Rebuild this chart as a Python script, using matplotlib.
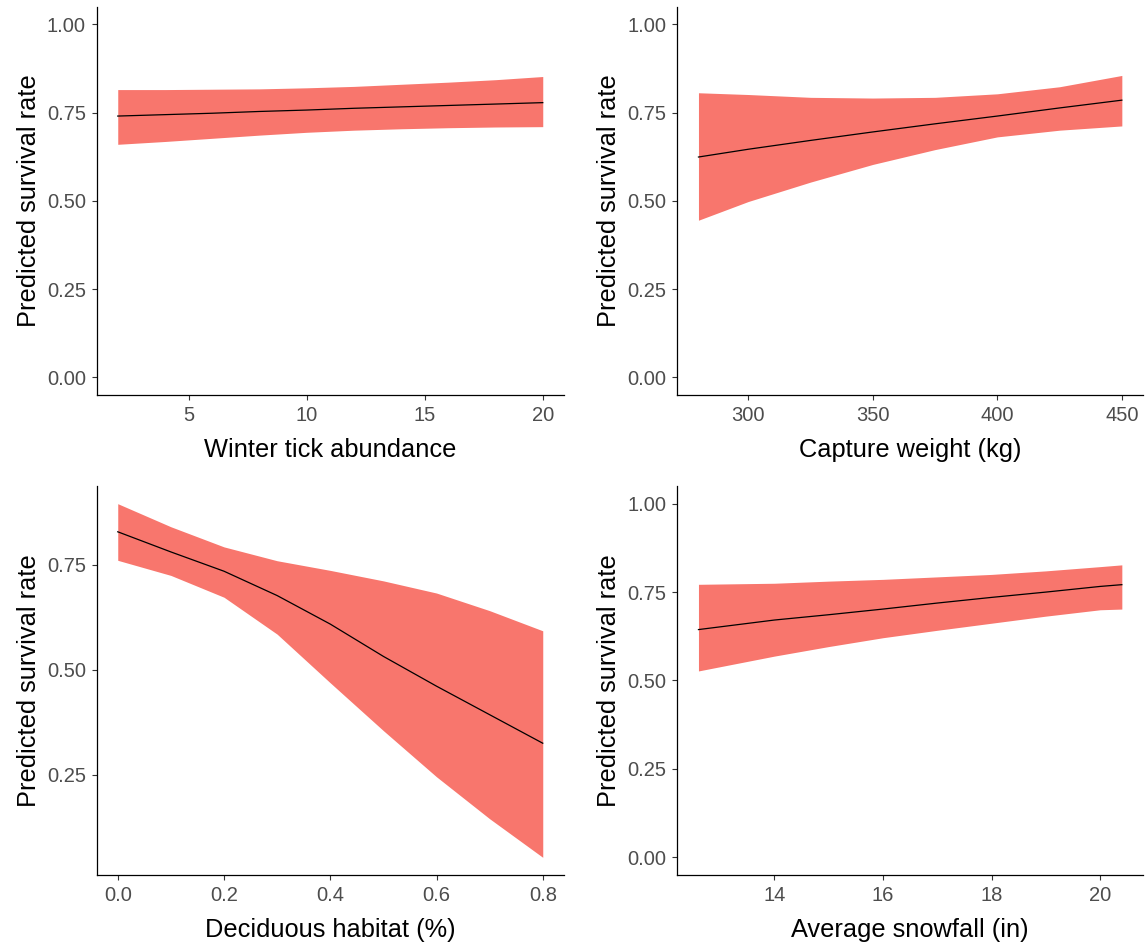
import numpy as np
import matplotlib
matplotlib.use("Agg")
import matplotlib.pyplot as plt

plt.rcParams["font.family"] = ["Liberation Sans", "DejaVu Sans"]

# Winter tick abundance
tick_x = [2, 4, 6, 8, 10, 12, 14, 16, 18, 20]
tick_mean = [0.740, 0.744, 0.748, 0.753, 0.757, 0.762, 0.766, 0.770, 0.774, 0.778]
tick_upper = [0.815, 0.815, 0.816, 0.817, 0.820, 0.824, 0.830, 0.836, 0.843, 0.852]
tick_lower = [0.660, 0.668, 0.677, 0.686, 0.694, 0.700, 0.704, 0.707, 0.709, 0.710]

# Capture weight (kg)
weight_x = [280, 300, 325, 350, 375, 400, 425, 450]
weight_mean = [0.624, 0.646, 0.671, 0.695, 0.718, 0.740, 0.763, 0.785]
weight_upper = [0.806, 0.801, 0.793, 0.791, 0.793, 0.803, 0.823, 0.855]
weight_lower = [0.445, 0.498, 0.553, 0.603, 0.645, 0.681, 0.700, 0.712]

# Deciduous habitat (%)
decid_x = [0.0, 0.1, 0.2, 0.3, 0.4, 0.5, 0.6, 0.7, 0.8]
decid_mean = [0.829, 0.781, 0.735, 0.677, 0.609, 0.532, 0.461, 0.393, 0.325]
decid_upper = [0.896, 0.841, 0.793, 0.760, 0.737, 0.712, 0.683, 0.641, 0.593]
decid_lower = [0.761, 0.725, 0.673, 0.585, 0.469, 0.355, 0.245, 0.145, 0.053]

# Average snowfall (in)
snow_x = [12.6, 14, 15, 16, 17, 18, 19, 20, 20.4]
snow_mean = [0.644, 0.671, 0.686, 0.702, 0.719, 0.735, 0.750, 0.766, 0.771]
snow_upper = [0.772, 0.775, 0.781, 0.786, 0.793, 0.800, 0.810, 0.822, 0.827]
snow_lower = [0.527, 0.569, 0.596, 0.621, 0.642, 0.662, 0.682, 0.700, 0.702]

fill_col = "#F8766D"
W, H = 1147, 947


def px_axes(fig, left, top, right, bottom):
    """Add axes from pixel edges (measured from the top-left corner)."""
    return fig.add_axes([left / W, 1 - bottom / H, (right - left) / W, (bottom - top) / H])


def effect_panel(ax, x, mean, lower, upper, xlabel, xticks, yticks):
    ax.fill_between(x, lower, upper, color=fill_col, linewidth=0)
    ax.plot(x, mean, color="black", linewidth=0.9)

    # ggplot style 5% expansion of the data range
    span = x[-1] - x[0]
    ax.set_xlim(x[0] - 0.05 * span, x[-1] + 0.05 * span)
    ax.set_xticks(xticks)
    ax.set_yticks(yticks)
    ax.set_yticklabels(["{:.2f}".format(v) for v in yticks])

    ax.set_xlabel(xlabel, fontsize=18.3, color="black", labelpad=9.5)
    ax.set_ylabel("Predicted survival rate", fontsize=18.3, color="black", labelpad=4.5)
    ax.tick_params(axis="both", labelsize=14.5, labelcolor="#4D4D4D",
                   color="#333333", length=3.6, width=0.8, pad=4)
    for side in ["top", "right"]:
        ax.spines[side].set_visible(False)
    for side in ["left", "bottom"]:
        ax.spines[side].set_linewidth(0.9)
        ax.spines[side].set_color("black")


fig = plt.figure(figsize=(W / 100, H / 100), dpi=100)

full_y = [0.0, 0.25, 0.5, 0.75, 1.0]

ax1 = px_axes(fig, 96.5, 6.6, 564, 395)
effect_panel(ax1, tick_x, tick_mean, tick_lower, tick_upper,
             "Winter tick abundance", [5, 10, 15, 20], full_y)
ax1.set_xticklabels(["5", "10", "15", "20"])
ax1.set_ylim(-0.05, 1.05)

ax2 = px_axes(fig, 677.3, 6.6, 1143, 395)
effect_panel(ax2, weight_x, weight_mean, weight_lower, weight_upper,
             "Capture weight (kg)", [300, 350, 400, 450], full_y)
ax2.set_ylim(-0.05, 1.05)

ax3 = px_axes(fig, 96.5, 486, 564, 875)
effect_panel(ax3, decid_x, decid_mean, decid_lower, decid_upper,
             "Deciduous habitat (%)", [0.0, 0.2, 0.4, 0.6, 0.8], [0.25, 0.5, 0.75])
ax3.set_xticklabels(["0.0", "0.2", "0.4", "0.6", "0.8"])
yspan = max(decid_upper) - min(decid_lower)
ax3.set_ylim(min(decid_lower) - 0.05 * yspan, max(decid_upper) + 0.05 * yspan)

ax4 = px_axes(fig, 677.3, 486, 1143, 875)
effect_panel(ax4, snow_x, snow_mean, snow_lower, snow_upper,
             "Average snowfall (in)", [14, 16, 18, 20], full_y)
ax4.set_ylim(-0.05, 1.05)

fig.savefig("out.png", dpi=100, facecolor="white")
